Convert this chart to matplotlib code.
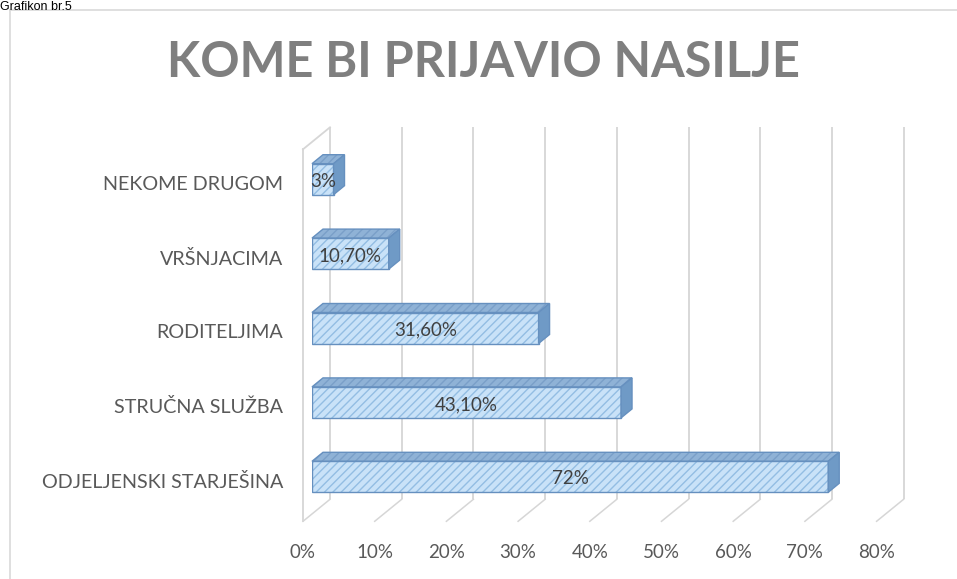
import matplotlib
matplotlib.use('Agg')
import matplotlib.pyplot as plt
from matplotlib.patches import Polygon
from matplotlib.lines import Line2D

# ---------------- data ----------------
categories = ['ODJELJENSKI STARJEŠINA', 'STRUČNA SLUŽBA', 'RODITELJIMA',
              'VRŠNJACIMA', 'NEKOME DRUGOM']
values = [72, 43.1, 31.6, 10.7, 3]
value_labels = ['72%', '43,10%', '31,60%', '10,70%', '3%']
x_ticks = [0, 10, 20, 30, 40, 50, 60, 70, 80]
x_tick_labels = ['0%', '10%', '20%', '30%', '40%', '50%', '60%', '70%', '80%']
title = 'KOME BI PRIJAVIO NASILJE'
caption = 'Grafikon br.5'

# ---------------- layout ----------------
W, H = 957, 579
fig = plt.figure(figsize=(W / 100, H / 100), dpi=100)
fig.patch.set_facecolor('white')

ax_left, ax_right = 312, 885.6
ax_top, ax_bot = 142, 514
ax = fig.add_axes([ax_left / W, (H - ax_bot) / H, (ax_right - ax_left) / W, (ax_bot - ax_top) / H])
ax.set_xlim(0, 80)
ax.set_ylim(-0.5, 4.5)
ax.axis('off')

PX = (ax_right - ax_left) / 80.0   # px per x unit
PY = (ax_bot - ax_top) / 5.0       # px per y unit


def off(px_x, px_up):
    return px_x / PX, px_up / PY


# depth geometry (bar plane is 1/3 of the way back)
bx, by = off(18, 14.7)    # back wall relative to bar plane
fx, fy = off(-9, -7.3)    # front edge relative to bar plane
y0, y1 = -0.5, 4.5

grid_color = '#d6d6d6'
text_color = '#595959'
FONT = 'Lato'

for t, lab in zip(x_ticks, x_tick_labels):
    ax.plot([t + bx, t + bx], [y0 + by, y1 + by], color=grid_color, lw=1.3,
            zorder=0, clip_on=False, solid_capstyle='butt')
    ax.plot([t + bx, t + fx], [y0 + by, y0 + fy], color=grid_color, lw=1.1,
            zorder=0, clip_on=False)
    ax.text(t + fx, y0 + fy - 31 / PY, lab, ha='center', va='center',
            fontsize=13.5, color=text_color, family=FONT, clip_on=False)

# left side wall outline
ax.plot([fx, fx], [y0 + fy, y1 + fy], color=grid_color, lw=1.3, zorder=0, clip_on=False)
ax.plot([fx, bx], [y1 + fy, y1 + by], color=grid_color, lw=1.3, zorder=0, clip_on=False)

# ---------------- bars ----------------
plt.rcParams['hatch.linewidth'] = 1.0
ypos = list(range(len(categories)))
h = 31 / PY
ddx, ddy = off(11, 9)

front_fill = '#c9e2f8'
front_hatch = '#93bde3'
top_fill = '#8fb2d6'
top_hatch = '#7a9fc8'
side_fill = '#6f9ac6'
edge = '#6690bf'

ax.barh(ypos, values, height=h, color=front_fill, edgecolor=front_hatch,
        hatch='////', linewidth=0, zorder=3)
ax.barh(ypos, values, height=h, color='none', edgecolor=edge, linewidth=1.0, zorder=4)

for y, v in zip(ypos, values):
    top = [(0, y + h / 2), (v, y + h / 2), (v + ddx, y + h / 2 + ddy), (ddx, y + h / 2 + ddy)]
    ax.add_patch(Polygon(top, closed=True, facecolor=top_fill, edgecolor=top_hatch,
                         hatch='////', linewidth=0, zorder=3, clip_on=False))
    ax.add_patch(Polygon(top, closed=True, facecolor='none', edgecolor=edge,
                         linewidth=1.0, zorder=4, clip_on=False))
    side = [(v, y - h / 2), (v, y + h / 2), (v + ddx, y + h / 2 + ddy), (v + ddx, y - h / 2 + ddy)]
    ax.add_patch(Polygon(side, closed=True, facecolor=side_fill, edgecolor=edge,
                         linewidth=1.0, zorder=4, clip_on=False))

for y, v, lab in zip(ypos, values, value_labels):
    ax.text(v / 2, y - 2 / PY, lab, ha='center', va='center', fontsize=13.5,
            color='#404040', family=FONT, zorder=6, clip_on=False)

# category labels
for y, cat in zip(ypos, categories):
    ax.text(-29 / PX, y - 5 / PY, cat, ha='right', va='center', fontsize=14.2,
            color=text_color, family=FONT, clip_on=False)

# ---------------- title, caption, frame ----------------
fig.text(483 / W, 1 - 77 / H, title, ha='center', va='baseline', fontsize=35,
         weight='bold', color='#7f7f7f', family=FONT)
fig.text(0 / W, 1 - 1 / H, caption, ha='left', va='top', fontsize=9,
         color='#000000', family='Liberation Sans')

fig.add_artist(Line2D([10 / W, 1.0], [1 - 10 / H, 1 - 10 / H], color='#d9d9d9', lw=1.2,
                      transform=fig.transFigure))
fig.add_artist(Line2D([10 / W, 10 / W], [1 - 10 / H, 0], color='#d9d9d9', lw=1.2,
                      transform=fig.transFigure))

fig.savefig('out.png', dpi=100)
